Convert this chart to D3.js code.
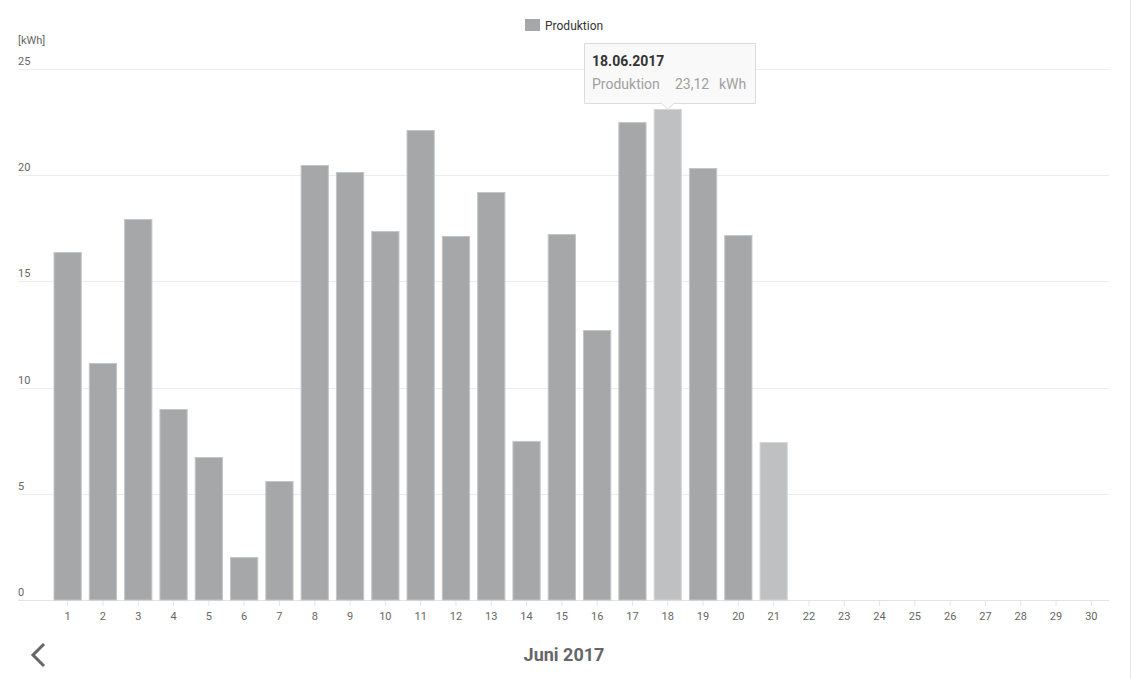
<!DOCTYPE html>
<html>
<head>
<meta charset="utf-8">
<script src="https://cdn.jsdelivr.net/npm/d3@7"></script>
<style>
  body { margin: 0; background: #fff; font-family: Roboto, "Noto Sans", sans-serif; }
  svg { display: block; }
</style>
</head>
<body>
<div id="chart"></div>
<script>
// data
var days = d3.range(1, 31).map(String);
var produktion = [16.38, 11.16, 17.94, 8.99, 6.73, 2.02, 5.60, 20.48, 20.15, 17.37,
                  22.13, 17.14, 19.21, 7.49, 17.23, 12.71, 22.50, 23.12, 20.34, 17.18,
                  7.44];
var yTicks = [0, 5, 10, 15, 20, 25];
var highlighted = ["18", "21"];
var seriesName = "Produktion";
var unit = "kWh";
var monthTitle = "Juni 2017";
var tooltipDate = "18.06.2017";
var tooltipValue = "23,12";

var svgWidth = 1131;
var svgHeight = 679;
var margin = { left: 50, right: 22, top: 69, bottom: 79 };
var gridLeft = 18;

var svg = d3.select("#chart")
  .append("svg")
  .attr("width", svgWidth)
  .attr("height", svgHeight);

var xScale = d3.scaleBand()
  .domain(days)
  .range([margin.left, svgWidth - margin.right])
  .paddingInner(0.2)
  .paddingOuter(0.1);

var yScale = d3.scaleLinear()
  .domain([0, 25])
  .range([svgHeight - margin.bottom, margin.top]);

// right border
svg.append("line")
  .attr("x1", 1130.5).attr("x2", 1130.5)
  .attr("y1", 0).attr("y2", svgHeight)
  .attr("stroke", "#e6e6e6");

// grid + y labels
var grid = svg.append("g").attr("class", "grid");
grid.selectAll("line").data(yTicks).enter()
  .append("line")
  .attr("x1", gridLeft)
  .attr("x2", svgWidth - margin.right)
  .attr("y1", d => Math.round(yScale(d)) + 0.5)
  .attr("y2", d => Math.round(yScale(d)) + 0.5)
  .attr("stroke", d => d === 0 ? "#e3e3e3" : "#ececec");

grid.selectAll("text").data(yTicks).enter()
  .append("text")
  .attr("x", gridLeft)
  .attr("y", d => yScale(d) - 4)
  .attr("font-size", "11px")
  .attr("fill", "#666")
  .text(d => d);

svg.append("text")
  .attr("x", gridLeft)
  .attr("y", 44)
  .attr("font-size", "11px")
  .attr("fill", "#666")
  .text("[" + unit + "]");

// x axis
var xAxis = d3.axisBottom(xScale).tickSize(5).tickPadding(6);
var xg = svg.append("g")
  .attr("transform", "translate(0," + (yScale(0) + 1) + ")")
  .call(xAxis);
xg.select(".domain").remove();
xg.selectAll(".tick line").attr("stroke", "#e6e6e6");
xg.selectAll(".tick text")
  .attr("font-family", "Roboto, sans-serif")
  .attr("font-size", "11px")
  .attr("fill", "#666");

// bars
svg.append("g").selectAll("rect")
  .data(produktion)
  .enter()
  .append("rect")
  .attr("x", (d, i) => xScale(days[i]) + 0.5)
  .attr("y", d => yScale(d) + 0.5)
  .attr("width", xScale.bandwidth() - 1)
  .attr("height", d => yScale(0) - yScale(d) - 0.5)
  .attr("fill", (d, i) => highlighted.indexOf(days[i]) >= 0 ? "#bfc0c1" : "#a6a7a9")
  .attr("stroke", (d, i) => highlighted.indexOf(days[i]) >= 0 ? "#d6d7d8" : "#c4c5c6")
  .attr("stroke-width", 1);

// legend
var legend = svg.append("g").attr("transform", "translate(525,19)");
legend.append("rect")
  .attr("width", 15).attr("height", 12)
  .attr("fill", "#a6a7a9");
legend.append("text")
  .attr("x", 20).attr("y", 10.5)
  .attr("font-size", "12px")
  .attr("fill", "#333")
  .text(seriesName);

// tooltip
var tipIdx = days.indexOf("18");
var tipX = xScale("18") + xScale.bandwidth() / 2;
var tipBottom = yScale(produktion[tipIdx]) - 6;
var tip = svg.append("g");
var tl = 584.5, tr = 755.5, tt = 43.5, tb = Math.round(tipBottom) + 0.5;
tip.append("path")
  .attr("d", "M" + tl + "," + tt + "H" + tr + "V" + tb + "H" + (tipX + 6) +
    "L" + tipX + "," + (tb + 6) + "L" + (tipX - 6) + "," + tb + "H" + tl + "Z")
  .attr("fill", "#f9f9f9")
  .attr("stroke", "#dcdcdc");
tip.append("text")
  .attr("x", 592).attr("y", 66)
  .attr("font-size", "14px")
  .attr("font-weight", "bold")
  .attr("fill", "#333")
  .text(tooltipDate);
tip.append("text")
  .attr("x", 592).attr("y", 89)
  .attr("font-size", "14px")
  .attr("fill", "#a0a0a0")
  .text(seriesName);
tip.append("text")
  .attr("x", 675).attr("y", 89)
  .attr("font-size", "14px")
  .attr("fill", "#a0a0a0")
  .text(tooltipValue);
tip.append("text")
  .attr("x", 719).attr("y", 89)
  .attr("font-size", "14px")
  .attr("fill", "#a0a0a0")
  .text(unit);

// month title + back arrow
svg.append("text")
  .attr("x", 564).attr("y", 661)
  .attr("text-anchor", "middle")
  .attr("font-size", "18px")
  .attr("font-weight", "bold")
  .attr("fill", "#666")
  .text(monthTitle);

svg.append("path")
  .attr("d", "M44,644 L33,655 L44,666")
  .attr("fill", "none")
  .attr("stroke", "#666")
  .attr("stroke-width", 3);
</script>
</body>
</html>
